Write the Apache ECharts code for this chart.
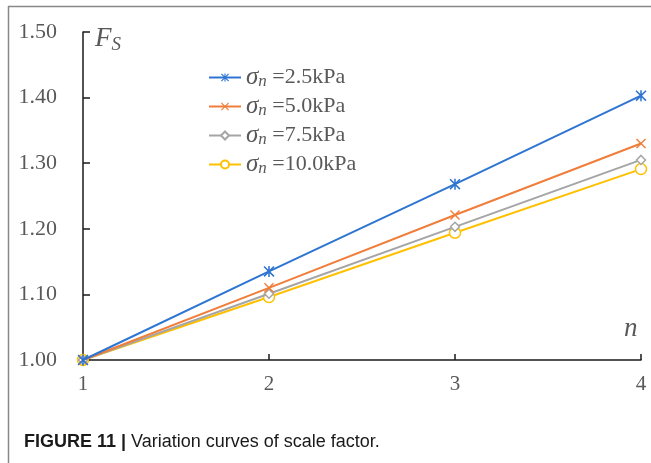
<!DOCTYPE html>
<html>
<head>
<meta charset="utf-8">
<script src="https://cdn.jsdelivr.net/npm/echarts@6/dist/echarts.min.js"></script>
<style>
  html, body { margin: 0; padding: 0; background: #fff; }
  #main { width: 651px; height: 463px; }
</style>
</head>
<body>
<div id="main"></div>
<script>
// n values (x axis)
var nValues = [1, 2, 3, 4];
var seriesNames = ['2.5kPa', '5.0kPa', '7.5kPa', '10.0kPa'];
var fs25 = [1.000, 1.135, 1.268, 1.403];
var fs50 = [1.000, 1.110, 1.221, 1.330];
var fs75 = [1.000, 1.101, 1.203, 1.305];
var fs100 = [1.000, 1.096, 1.194, 1.291];
var yTicks = [1.00, 1.10, 1.20, 1.30, 1.40, 1.50];

var colors = ['#2E75D2', '#F07D3A', '#A5A5A5', '#FFC000'];

// marker shapes drawn as filled paths
var asterisk = 'path://M4.3,0 L5.7,0 L5.7,10 L4.3,10 Z M0,1 L1,0 L10,9 L9,10 Z M9,0 L10,1 L1,10 L0,9 Z';
var cross = 'path://M0,1 L1,0 L5,4 L9,0 L10,1 L6,5 L10,9 L9,10 L5,6 L1,10 L0,9 L4,5 Z';

function pairs(arr) {
  return nValues.map(function(n, i) { return [n, arr[i]]; });
}

function makeSeries(idx, data, symbol, size, hollow) {
  return {
    name: seriesNames[idx],
    type: 'line',
    data: pairs(data),
    symbol: symbol,
    symbolSize: size,
    showAllSymbol: true,
    lineStyle: { color: colors[idx], width: 2 },
    itemStyle: hollow
      ? { color: '#fff', borderColor: colors[idx], borderWidth: 1.5 }
      : { color: colors[idx], borderWidth: 0 },
    emphasis: { disabled: true },
    z: 10 - idx
  };
}

var chart = echarts.init(document.getElementById('main'), null, { renderer: 'canvas' });

var legendRich = {
  s: { fontFamily: 'Liberation Serif', fontStyle: 'italic', fontSize: 25, color: '#595959' },
  sub: { fontFamily: 'Liberation Serif', fontStyle: 'italic', fontSize: 17, color: '#595959', padding: [9, 0, 0, 0] },
  t: { fontFamily: 'Liberation Serif', fontSize: 22, color: '#595959' }
};

var option = {
  animation: false,
  backgroundColor: '#fff',
  grid: { left: 83, right: 10, top: 32, bottom: 103, containLabel: false },
  legend: {
    left: 203,
    top: 60,
    orient: 'vertical',
    itemWidth: 32,
    itemHeight: 10,
    itemGap: 3.5,
    data: seriesNames,
    formatter: function(name) {
      return '{s|σ}{sub|n}{t| =' + name + '}';
    },
    textStyle: { rich: legendRich }
  },
  xAxis: {
    type: 'value',
    min: 1,
    max: 4,
    interval: 1,
    splitLine: { show: false },
    axisLine: { lineStyle: { color: '#1a1a1a', width: 1.5 } },
    axisTick: { inside: true, length: 6, lineStyle: { color: '#1a1a1a', width: 1.5 } },
    axisLabel: { margin: 14, fontFamily: 'Liberation Serif', fontSize: 21, color: '#595959' }
  },
  yAxis: {
    type: 'value',
    min: 1.0,
    max: 1.5,
    interval: 0.1,
    splitLine: { show: false },
    axisLine: { show: true, lineStyle: { color: '#1a1a1a', width: 1.5 } },
    axisTick: { show: true, inside: true, length: 7, lineStyle: { color: '#1a1a1a', width: 1.5 } },
    axisLabel: {
      margin: 26,
      fontFamily: 'Liberation Serif',
      fontSize: 22,
      color: '#595959',
      formatter: function(v) { return v.toFixed(2); }
    }
  },
  graphic: [
    // frame lines top and left
    { type: 'line', shape: { x1: 8, y1: 6.5, x2: 651, y2: 6.5 }, style: { stroke: '#888', lineWidth: 1.5 } },
    { type: 'line', shape: { x1: 8.5, y1: 6, x2: 8.5, y2: 463 }, style: { stroke: '#888', lineWidth: 1.5 } },
    {
      type: 'text', left: 95, top: 25,
      style: {
        text: '{f|F}{s|S}',
        rich: {
          f: { fontFamily: 'Liberation Serif', fontStyle: 'italic', fontSize: 27, fill: '#595959' },
          s: { fontFamily: 'Liberation Serif', fontStyle: 'italic', fontSize: 19, fill: '#595959', padding: [12, 0, 0, 0] }
        }
      }
    },
    {
      type: 'text', left: 624, top: 315,
      style: { text: 'n', fontFamily: 'Liberation Serif', fontStyle: 'italic', fontSize: 27, fill: '#595959' }
    },
    {
      type: 'text', left: 24, top: 433,
      style: {
        text: '{b|FIGURE 11 | }{r|Variation curves of scale factor.}',
        rich: {
          b: { fontFamily: 'Liberation Sans', fontWeight: 'bold', fontSize: 18, fill: '#1a1a1a' },
          r: { fontFamily: 'Liberation Sans', fontSize: 18, fill: '#1a1a1a' }
        }
      }
    }
  ],
  series: [
    makeSeries(0, fs25, asterisk, 11, false),
    makeSeries(1, fs50, cross, 10, false),
    makeSeries(2, fs75, 'diamond', 9, true),
    makeSeries(3, fs100, 'circle', 11, true)
  ]
};

chart.setOption(option);
</script>
</body>
</html>
